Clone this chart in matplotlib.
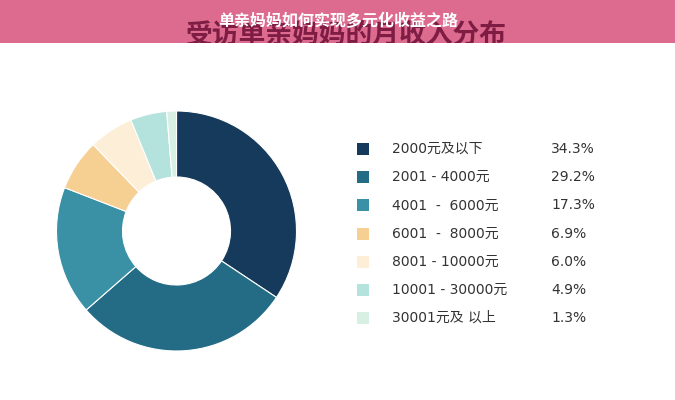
import matplotlib
matplotlib.use("Agg")
import matplotlib.pyplot as plt
from matplotlib.patches import Rectangle

plt.rcParams['font.family'] = ['DejaVu Sans', 'Noto Sans CJK SC']

title = "受访单亲妈妈的月收入分布"
banner_text = "单亲妈妈如何实现多元化收益之路"
categories = ["2000元及以下", "2001 - 4000元", "4001  -  6000元", "6001  -  8000元",
              "8001 - 10000元", "10001 - 30000元", "30001元及 以上"]
values = [34.3, 29.2, 17.3, 6.9, 6.0, 4.9, 1.3]
value_labels = ["34.3%", "29.2%", "17.3%", "6.9%", "6.0%", "4.9%", "1.3%"]
colors = ["#153a5b", "#246b85", "#3a90a4", "#f6cf93", "#fdeed8", "#b4e2dc", "#d8efe3"]

W, H = 675, 400
fig = plt.figure(figsize=(W / 100, H / 100), dpi=100)
fig.patch.set_facecolor("white")

# banner
bh = 43
banner = Rectangle((0, 1 - bh / H), 1, bh / H, transform=fig.transFigure,
                   facecolor="#dc6b8f", edgecolor="none", zorder=0)
fig.patches.append(banner)

t = fig.text(346 / W, 1 - 35 / H, title, ha="center", va="center", fontsize=19.3,
             fontweight="bold", color="#7e1c44", family=['Noto Sans CJK SC', 'DejaVu Sans'],
             zorder=1)
t.set_clip_path(banner)

fig.text(338 / W, 1 - 21 / H, banner_text, ha="center", va="center", fontsize=11.5,
         fontweight="bold", color="white", family=['Noto Sans CJK SC', 'DejaVu Sans'], zorder=2)

# donut
cx, cy, r = 176.5, 231, 120
ax = fig.add_axes([(cx - r) / W, (H - cy - r) / H, 2 * r / W, 2 * r / H])
ax.pie(values, colors=colors, startangle=90, counterclock=False, radius=1,
       wedgeprops=dict(width=0.55, edgecolor="white", linewidth=0.8))
ax.set_xlim(-1, 1)
ax.set_ylim(-1, 1)
ax.set_aspect("equal")
ax.axis("off")

# legend
y0, dy = 149, 28.2
sq = 12
for i, (lab, val, c) in enumerate(zip(categories, value_labels, colors)):
    y = y0 + i * dy
    fig.patches.append(Rectangle(((363 - sq / 2) / W, (H - y - sq / 2) / H), sq / W, sq / H,
                                 transform=fig.transFigure, facecolor=c, edgecolor="none"))
    fig.text(392 / W, 1 - y / H, lab, ha="left", va="center", fontsize=10, color="#333333")
    fig.text(551 / W, 1 - y / H, val, ha="left", va="center", fontsize=10, color="#333333")

fig.savefig("out.png", dpi=100)
